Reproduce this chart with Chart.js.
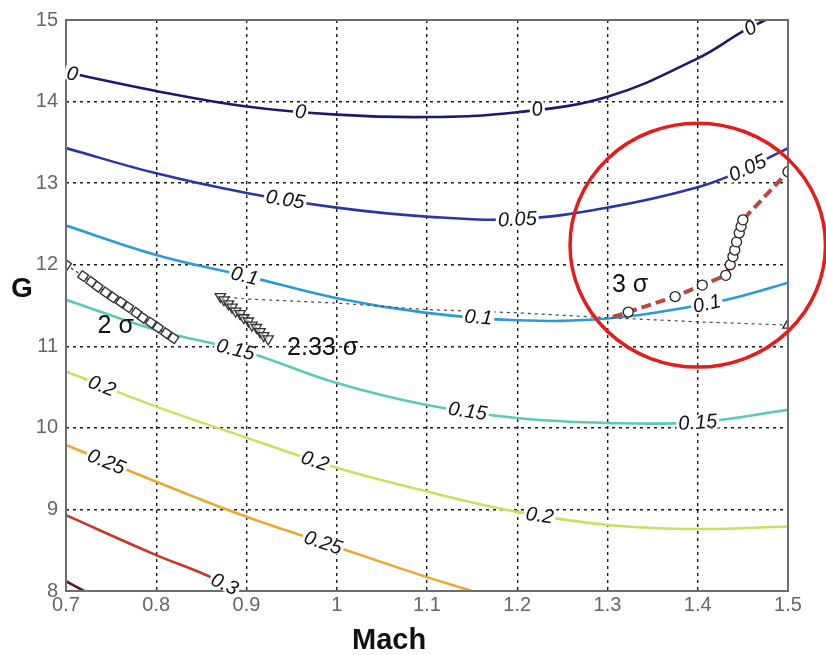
<!DOCTYPE html>
<html>
<head>
<meta charset="utf-8">
<script src="https://cdn.jsdelivr.net/npm/chart.js@4.4.1/dist/chart.umd.min.js"></script>
<style>
  html, body { margin: 0; padding: 0; background: #fff; }
</style>
</head>
<body>
<canvas id="contourChart" width="826" height="655"></canvas>
<script>
// axis ticks
const machTicks = [0.7, 0.8, 0.9, 1.0, 1.1, 1.2, 1.3, 1.4, 1.5];
const machTickLabels = ['0.7', '0.8', '0.9', '1', '1.1', '1.2', '1.3', '1.4', '1.5'];
const gTicks = [8, 9, 10, 11, 12, 13, 14, 15];

// contour levels
const levels = ['0', '0.05', '0.1', '0.15', '0.2', '0.25', '0.3', '0.35'];
const levelColors = ['#1b1a6b', '#2a36a6', '#2b9bd6', '#5ccab6', '#cddf5e', '#e9a935', '#c7382a', '#6b1212'];

const c0Mach  = [0.7, 0.8, 0.9, 1.0, 1.1, 1.2, 1.3, 1.4, 1.45, 1.475];
const c0G     = [14.36, 14.13, 13.94, 13.84, 13.81, 13.87, 14.06, 14.53, 14.86, 15.0];
const c05Mach = [0.7, 0.8, 0.9, 1.0, 1.1, 1.2, 1.3, 1.4, 1.45, 1.5];
const c05G    = [13.43, 13.12, 12.88, 12.70, 12.59, 12.56, 12.70, 12.95, 13.16, 13.43];
const c10Mach = [0.7, 0.8, 0.9, 1.0, 1.1, 1.2, 1.3, 1.4, 1.45, 1.5];
const c10G    = [12.48, 12.12, 11.86, 11.59, 11.41, 11.32, 11.34, 11.50, 11.62, 11.78];
const c15Mach = [0.7, 0.8, 0.9, 1.0, 1.1, 1.2, 1.3, 1.4, 1.5];
const c15G    = [11.57, 11.20, 10.93, 10.55, 10.28, 10.12, 10.06, 10.07, 10.22];
const c20Mach = [0.7, 0.8, 0.9, 1.0, 1.1, 1.2, 1.3, 1.4, 1.5];
const c20G    = [10.69, 10.26, 9.88, 9.51, 9.22, 8.97, 8.81, 8.76, 8.79];
const c25Mach = [0.7, 0.8, 0.9, 1.0, 1.1, 1.15];
const c25G    = [9.79, 9.34, 8.91, 8.54, 8.17, 8.0];
const c30Mach = [0.7, 0.8, 0.85, 0.893];
const c30G    = [8.93, 8.44, 8.22, 8.0];
const c35Mach = [0.7, 0.72];
const c35G    = [8.12, 8.0];

const contourMach = [c0Mach, c05Mach, c10Mach, c15Mach, c20Mach, c25Mach, c30Mach, c35Mach];
const contourG = [c0G, c05G, c10G, c15G, c20G, c25G, c30G, c35G];

// inline contour labels: [text, contour index, Mach]
const contourLabels = [
  ['0', 0, 0.707], ['0', 0, 0.96], ['0', 0, 1.222], ['0', 0, 1.458],
  ['0.05', 1, 0.943], ['0.05', 1, 1.2], ['0.05', 1, 1.455],
  ['0.1', 2, 0.898], ['0.1', 2, 1.157], ['0.1', 2, 1.41],
  ['0.15', 3, 0.888], ['0.15', 3, 1.145], ['0.15', 3, 1.40],
  ['0.2', 4, 0.74], ['0.2', 4, 0.976], ['0.2', 4, 1.225],
  ['0.25', 5, 0.745], ['0.25', 5, 0.985],
  ['0.3', 6, 0.876]
];

// 2 sigma boundary (squares)
const sig2Mach = [0.700, 0.719, 0.728, 0.735, 0.744, 0.752, 0.761, 0.769, 0.778, 0.785, 0.794, 0.802, 0.811, 0.819];
const sig2G    = [12.00, 11.86, 11.79, 11.73, 11.66, 11.60, 11.54, 11.48, 11.41, 11.35, 11.29, 11.23, 11.16, 11.10];

// 2.33 sigma boundary (triangles + dashed tail)
const sig233Mach = [0.871, 0.875, 0.880, 0.884, 0.888, 0.893, 0.897, 0.902, 0.906, 0.911, 0.915, 0.919, 0.924];
const sig233G    = [11.61, 11.57, 11.52, 11.48, 11.43, 11.40, 11.35, 11.31, 11.26, 11.23, 11.18, 11.13, 11.09];
const tail233Mach = [0.871, 0.9, 1.0, 1.1, 1.2, 1.3, 1.4, 1.5];
const tail233G    = [11.61, 11.58, 11.53, 11.45, 11.41, 11.35, 11.30, 11.26];

// 3 sigma boundary (circles, red dashed)
const sig3Mach = [1.306, 1.323, 1.375, 1.405, 1.431, 1.436, 1.439, 1.441, 1.443, 1.446, 1.448, 1.450, 1.500];
const sig3G    = [11.36, 11.42, 11.61, 11.75, 11.87, 12.00, 12.10, 12.18, 12.28, 12.39, 12.47, 12.55, 13.14];

// text annotations: [text, Mach, G]
const sigmaTexts = [['2 \u03c3', 0.735, 11.25], ['2.33 \u03c3', 0.945, 10.98], ['3 \u03c3', 1.305, 11.75]];

// highlighted region (red ellipse): centre Mach, centre G, radius Mach, radius G
const ringMach = 1.4, ringG = 12.24, ringRx = 0.1415, ringRy = 1.495;

const pts = (xs, ys) => xs.map((x, i) => ({ x: x, y: ys[i] }));

const datasets = [];
contourMach.forEach((xs, i) => {
  datasets.push({
    label: levels[i],
    data: pts(xs, contourG[i]),
    showLine: true,
    borderColor: levelColors[i],
    borderWidth: 2.6,
    pointRadius: 0,
    tension: 0.4,
    order: 5
  });
});
datasets.push({
  label: '2.33 tail',
  data: pts(tail233Mach, tail233G),
  showLine: true,
  borderColor: '#444',
  borderWidth: 1.2,
  borderDash: [3, 4],
  pointStyle: 'triangle',
  pointRadius: tail233Mach.map((x, i) => i === tail233Mach.length - 1 ? 6 : 0),
  pointBackgroundColor: '#fff',
  pointBorderColor: '#222',
  pointBorderWidth: 1.3,
  order: 3
});
datasets.push({
  label: '2 sigma',
  data: pts(sig2Mach, sig2G),
  showLine: true,
  borderColor: '#444',
  borderWidth: 1.2,
  borderDash: [3, 3],
  pointStyle: 'rect',
  pointRotation: 35,
  pointRadius: 5.5,
  pointBackgroundColor: '#fff',
  pointBorderColor: '#333',
  pointBorderWidth: 1.4,
  order: 2
});
datasets.push({
  label: '2.33 sigma',
  data: pts(sig233Mach, sig233G),
  showLine: true,
  borderColor: '#444',
  borderWidth: 1.2,
  pointStyle: 'triangle',
  pointRotation: 180,
  pointRadius: 6,
  pointBackgroundColor: 'rgba(255,255,255,0.5)',
  pointBorderColor: '#333',
  pointBorderWidth: 1.3,
  order: 2
});
datasets.push({
  label: '3 sigma',
  data: pts(sig3Mach, sig3G),
  showLine: true,
  borderColor: '#b9473f',
  borderWidth: 4,
  borderDash: [10, 5],
  pointStyle: 'circle',
  pointRadius: sig3Mach.map((x, i) => i === 0 ? 0 : 5),
  pointBackgroundColor: '#fff',
  pointBorderColor: '#222',
  pointBorderWidth: 1.3,
  order: 1
});

function interpAt(xs, ys, x) {
  for (let i = 0; i < xs.length - 1; i++) {
    if (x >= xs[i] && x <= xs[i + 1]) {
      const t = (x - xs[i]) / (xs[i + 1] - xs[i]);
      return ys[i] + t * (ys[i + 1] - ys[i]);
    }
  }
  return ys[ys.length - 1];
}

const decorations = {
  id: 'decorations',
  afterDatasetsDraw(chart) {
    const { ctx, chartArea: a, scales: { x, y } } = chart;
    ctx.save();
    // frame
    ctx.strokeStyle = '#6d6d6d';
    ctx.lineWidth = 2;
    ctx.strokeRect(a.left, a.top, a.right - a.left, a.bottom - a.top);

    // contour labels
    ctx.font = 'italic 20px "Liberation Sans", Arial, sans-serif';
    ctx.textAlign = 'center';
    ctx.textBaseline = 'middle';
    contourLabels.forEach(([txt, ci, mx]) => {
      const xs = contourMach[ci], ys = contourG[ci];
      const gy = interpAt(xs, ys, mx);
      const d = 0.01;
      const p1x = x.getPixelForValue(mx - d), p1y = y.getPixelForValue(interpAt(xs, ys, Math.max(xs[0], mx - d)));
      const p2x = x.getPixelForValue(mx + d), p2y = y.getPixelForValue(interpAt(xs, ys, Math.min(xs[xs.length - 1], mx + d)));
      const ang = Math.atan2(p2y - p1y, p2x - p1x);
      const px = x.getPixelForValue(mx), py = y.getPixelForValue(gy);
      ctx.save();
      ctx.translate(px, py);
      ctx.rotate(ang);
      const w = ctx.measureText(txt).width;
      ctx.fillStyle = '#fff';
      ctx.fillRect(-w / 2 - 2, -7, w + 4, 14);
      ctx.fillStyle = '#111';
      ctx.fillText(txt, 0, 1);
      ctx.restore();
    });

    // sigma texts
    ctx.font = '25px "Liberation Sans", Arial, sans-serif';
    ctx.textAlign = 'left';
    ctx.fillStyle = '#111';
    sigmaTexts.forEach(([txt, mx, gy]) => {
      ctx.fillText(txt, x.getPixelForValue(mx), y.getPixelForValue(gy));
    });

    // red ring
    const cx = x.getPixelForValue(ringMach), cy = y.getPixelForValue(ringG);
    const rx = x.getPixelForValue(ringMach + ringRx) - cx;
    const ry = cy - y.getPixelForValue(ringG + ringRy);
    ctx.beginPath();
    ctx.ellipse(cx, cy, rx, ry, 0, 0, Math.PI * 2);
    ctx.strokeStyle = '#e21d1d';
    ctx.lineWidth = 3.5;
    ctx.stroke();

    // axis titles
    ctx.fillStyle = '#111';
    ctx.font = 'bold 29px "Liberation Sans", Arial, sans-serif';
    ctx.textAlign = 'center';
    ctx.fillText('Mach', x.getPixelForValue(1.058), a.bottom + 50);
    ctx.font = 'bold 28px "Liberation Sans", Arial, sans-serif';
    ctx.fillText('G', 22, y.getPixelForValue(11.7));
    ctx.restore();
  }
};

new Chart(document.getElementById('contourChart'), {
  type: 'scatter',
  data: { datasets: datasets },
  options: {
    responsive: false,
    animation: false,
    layout: { padding: { top: 20, right: 38, left: 0, bottom: 0 } },
    plugins: { legend: { display: false }, tooltip: { enabled: false } },
    scales: {
      x: {
        type: 'linear',
        min: 0.7,
        max: 1.5,
        afterBuildTicks: s => { s.ticks = machTicks.map(v => ({ value: v })); },
        afterFit: s => { s.height = 64; },
        ticks: {
          callback: (v, i) => machTickLabels[i],
          color: '#666',
          font: { size: 20, family: '"Liberation Sans", Arial, sans-serif' },
          padding: 2,
          maxRotation: 0
        },
        grid: { color: '#1a1a1a', lineWidth: 1.4, drawTicks: false },
        border: { display: false, dash: [3, 4] }
      },
      y: {
        type: 'linear',
        min: 8,
        max: 15,
        afterBuildTicks: s => { s.ticks = gTicks.map(v => ({ value: v })); },
        afterFit: s => { s.width = 66; },
        ticks: {
          color: '#666',
          font: { size: 20, family: '"Liberation Sans", Arial, sans-serif' },
          padding: 8
        },
        grid: { color: '#1a1a1a', lineWidth: 1.4, drawTicks: false },
        border: { display: false, dash: [3, 4] }
      }
    }
  },
  plugins: [decorations]
});
</script>
</body>
</html>
